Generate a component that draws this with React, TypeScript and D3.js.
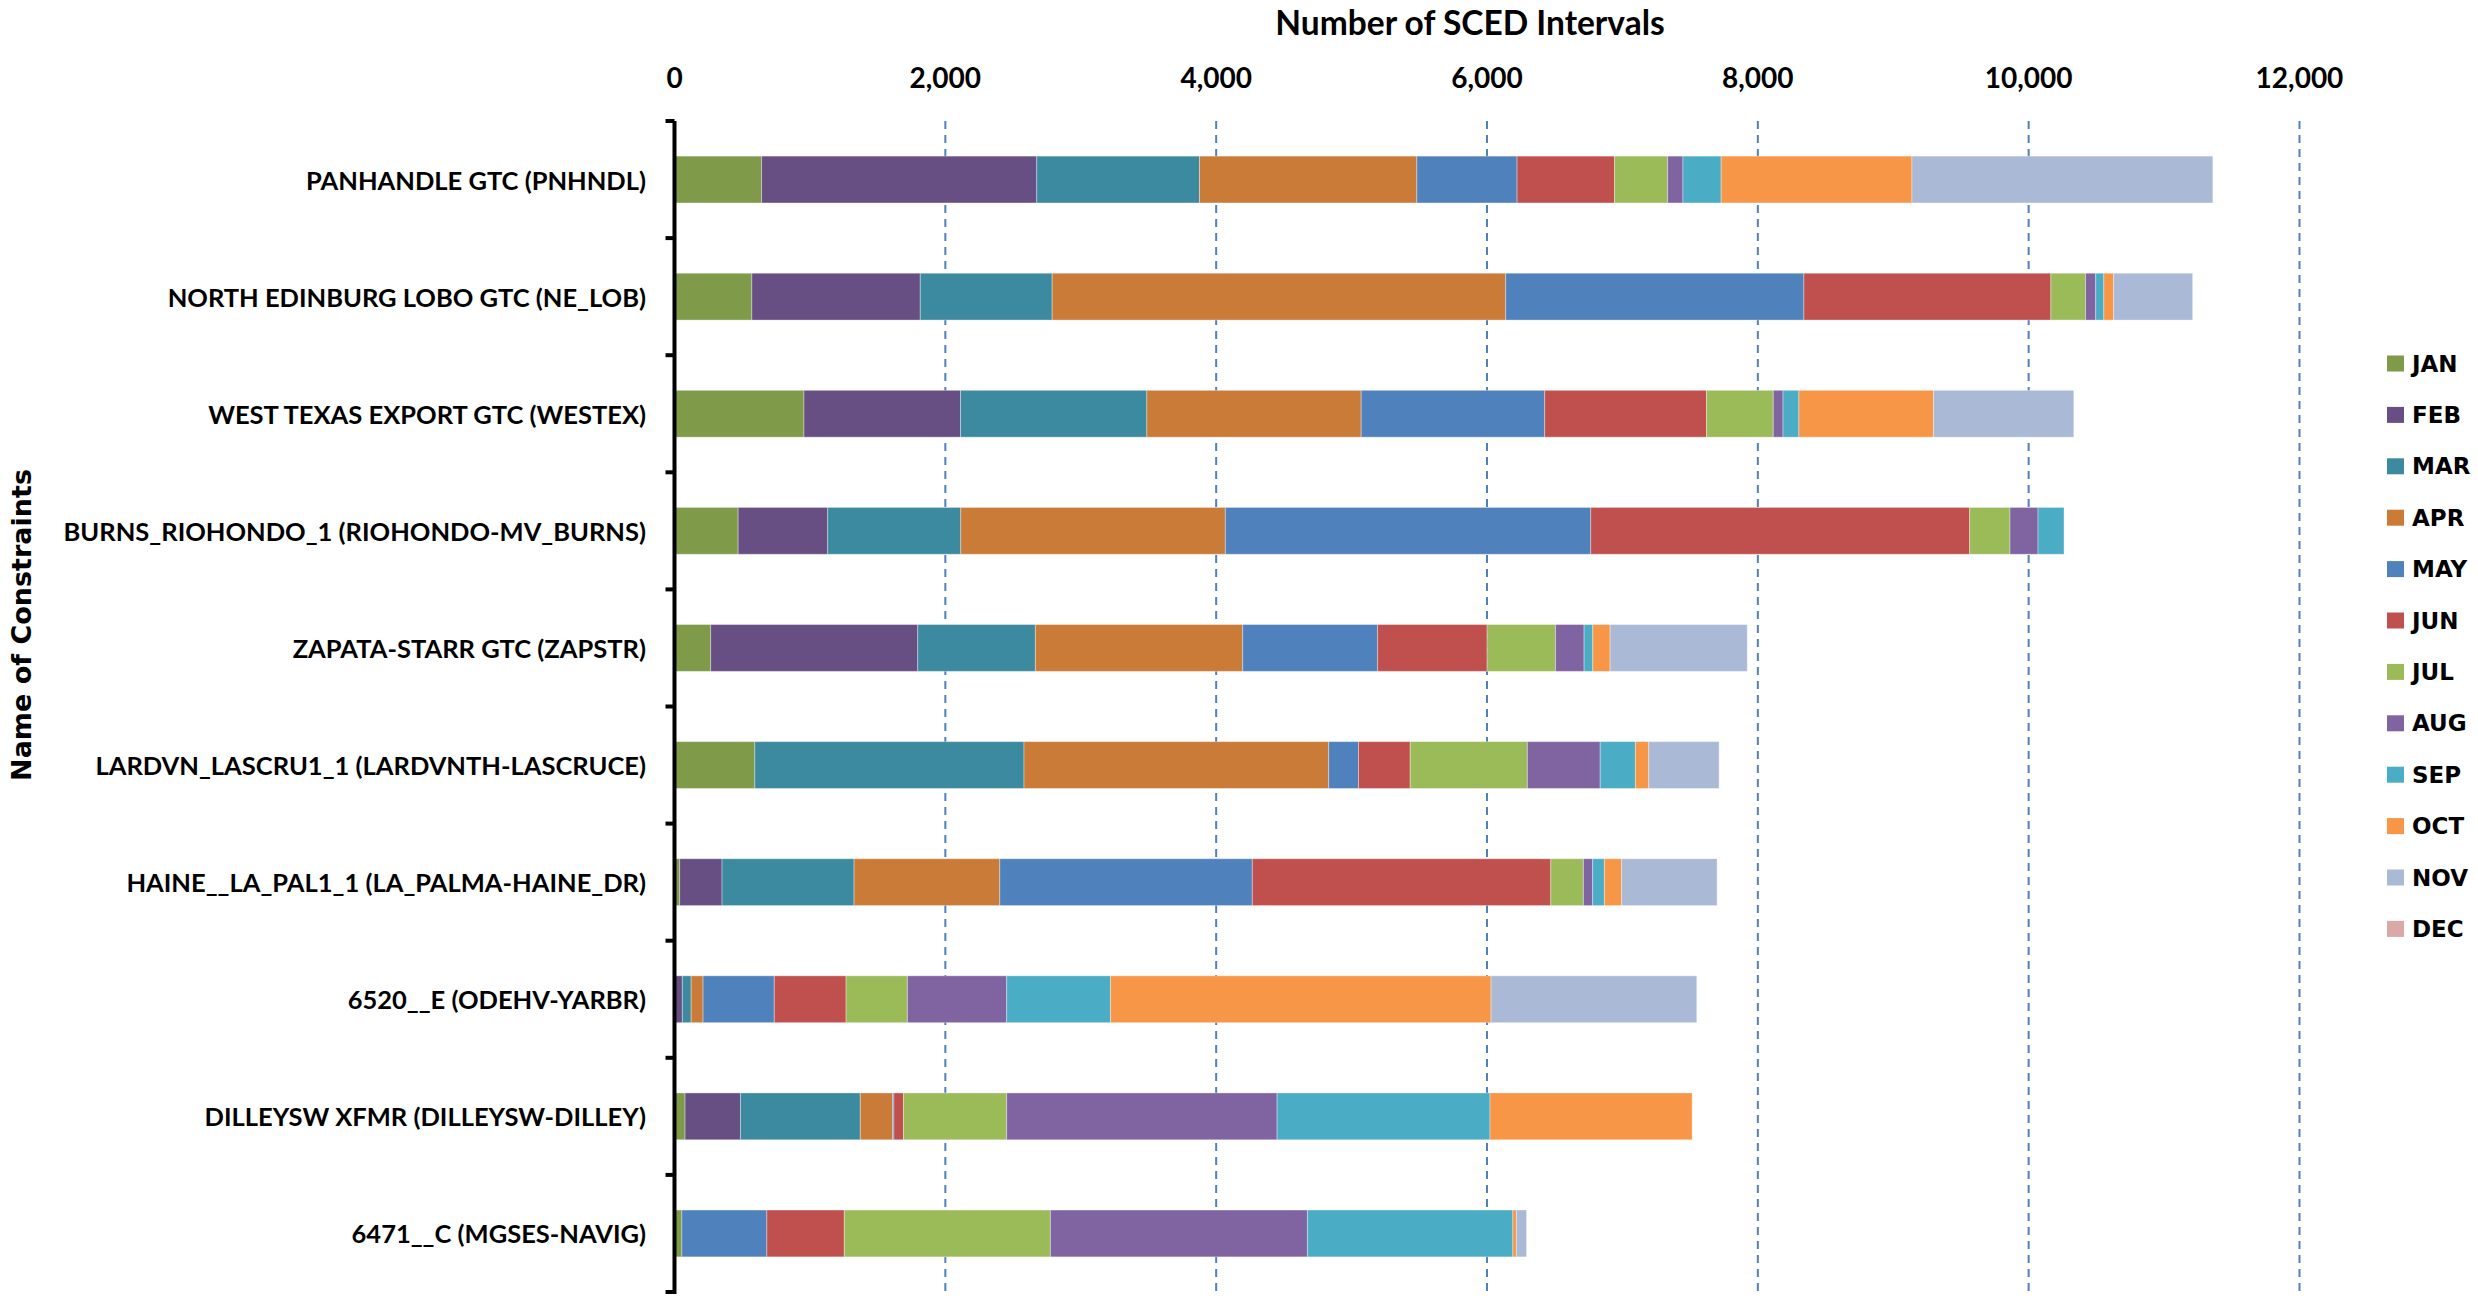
import React from "react";
import * as d3 from "d3";

const categories = [
  "PANHANDLE GTC (PNHNDL)",
  "NORTH EDINBURG LOBO GTC (NE_LOB)",
  "WEST TEXAS EXPORT GTC (WESTEX)",
  "BURNS_RIOHONDO_1 (RIOHONDO-MV_BURNS)",
  "ZAPATA-STARR GTC (ZAPSTR)",
  "LARDVN_LASCRU1_1 (LARDVNTH-LASCRUCE)",
  "HAINE__LA_PAL1_1 (LA_PALMA-HAINE_DR)",
  "6520__E (ODEHV-YARBR)",
  "DILLEYSW XFMR (DILLEYSW-DILLEY)",
  "6471__C (MGSES-NAVIG)",
];

const months = ["JAN", "FEB", "MAR", "APR", "MAY", "JUN", "JUL", "AUG", "SEP", "OCT", "NOV", "DEC"];

const jan = [643, 571, 956, 470, 267, 593, 38, 0, 78, 54];
const feb = [2032, 1244, 1156, 661, 1529, 0, 313, 58, 409, 0];
const mar = [1202, 974, 1376, 983, 869, 1988, 975, 65, 885, 0];
const apr = [1605, 3349, 1583, 1954, 1531, 2250, 1076, 88, 238, 0];
const may = [740, 2202, 1355, 2698, 996, 220, 1865, 526, 10, 628];
const jun = [720, 1824, 1195, 2798, 809, 382, 2204, 530, 71, 572];
const jul = [392, 256, 493, 298, 505, 865, 241, 453, 762, 1522];
const aug = [113, 75, 72, 207, 211, 538, 68, 733, 1997, 1898];
const sep = [282, 60, 117, 192, 64, 260, 87, 767, 1572, 1517];
const oct = [1409, 72, 994, 0, 128, 98, 127, 2810, 1493, 26];
const nov = [2222, 584, 1036, 0, 1013, 520, 705, 1519, 0, 75];
const dec = [0, 0, 0, 0, 0, 0, 0, 0, 0, 0];

const series = [jan, feb, mar, apr, may, jun, jul, aug, sep, oct, nov, dec];

const colors = [
  "#7F9A48", "#674F84", "#3C8AA0", "#CB7B38", "#4F81BD", "#C0504D",
  "#9BBB59", "#8064A2", "#4BACC6", "#F79646", "#AAB9D6", "#D9A8A7",
];

const xTicks = [0, 2000, 4000, 6000, 8000, 10000, 12000];

const W = 2478;
const H = 1300;

export default function App() {
  const x = d3.scaleLinear().domain([0, 12000]).range([674.5, 2299.5]);
  const y = d3
    .scaleBand<string>()
    .domain(categories)
    .range([121, 1292])
    .paddingInner(0.6)
    .paddingOuter(0.3);
  const step = y.step();

  const rows = categories.map((c, i) => {
    const r: any = { cat: c };
    months.forEach((m, k) => (r[m] = series[k][i]));
    return r;
  });
  const stacked = d3.stack<any>().keys(months)(rows);
  const color = d3.scaleOrdinal<string, string>().domain(months).range(colors);
  const fmt = d3.format(",");

  const top = y.range()[0];
  const bottom = y.range()[1];
  const boundaries = d3.range(categories.length + 1).map((i) => top + i * step);

  const labelFont = "Lato, 'Open Sans', sans-serif";
  const verdanaLike = "'DejaVu Sans', Verdana, sans-serif";

  return (
    <svg
      width={W}
      height={H}
      viewBox={`0 0 ${W} ${H}`}
      style={{ position: "absolute", left: 0, top: 0, background: "#fff", display: "block" }}
    >
      <rect x={0} y={0} width={W} height={H} fill="#fff" />
      {/* gridlines */}
      {xTicks.slice(1).map((t) => (
        <line
          key={"g" + t}
          x1={x(t)}
          x2={x(t)}
          y1={top}
          y2={bottom}
          stroke="#4F81BD"
          strokeWidth={2}
          strokeDasharray="8 6"
        />
      ))}
      {/* bars */}
      {stacked.map((s) => (
        <g key={s.key} fill={color(s.key)}>
          {s.map((d, i) => {
            const w = x(d[1]) - x(d[0]);
            if (w <= 0) return null;
            return (
              <rect
                key={i}
                x={x(d[0])}
                y={y(d.data.cat)}
                width={w}
                height={y.bandwidth()}
                stroke="#ffffff"
                strokeOpacity={0.35}
                strokeWidth={1}
              />
            );
          })}
        </g>
      ))}
      {/* y axis line and ticks */}
      <line x1={x(0)} x2={x(0)} y1={top} y2={bottom + 2} stroke="#000" strokeWidth={4} />
      {boundaries.map((b, i) => (
        <line key={"t" + i} x1={x(0) - 9} x2={x(0)} y1={b} y2={b} stroke="#000" strokeWidth={4} />
      ))}
      {/* category labels */}
      {categories.map((c) => (
        <text
          key={c}
          x={646}
          y={(y(c) as number) + y.bandwidth() / 2}
          textAnchor="end"
          dominantBaseline="central"
          fontFamily={labelFont}
          fontWeight="bold"
          fontSize={25.5}
          fill="#000"
        >
          {c}
        </text>
      ))}
      {/* x tick labels */}
      {xTicks.map((t) => (
        <text
          key={"xl" + t}
          x={x(t)}
          y={88}
          textAnchor="middle"
          fontFamily={labelFont}
          fontWeight="bold"
          fontSize={28}
          fill="#000"
        >
          {fmt(t)}
        </text>
      ))}
      {/* title */}
      <text
        x={1470}
        y={35}
        textAnchor="middle"
        fontFamily={labelFont}
        fontWeight="bold"
        fontSize={33.5}
        fill="#000"
      >
        Number of SCED Intervals
      </text>
      {/* y axis title */}
      <text
        transform={`translate(31, 625) rotate(-90)`}
        textAnchor="middle"
        fontFamily={verdanaLike}
        fontWeight="bold"
        fontSize={27}
        fill="#000"
      >
        Name of Constraints
      </text>
      {/* legend */}
      {months.map((m, i) => {
        const cy = 363.5 + i * 51.4;
        return (
          <g key={"lg" + m}>
            <rect x={2387} y={cy - 8} width={17} height={16} fill={color(m)} />
            <text
              x={2412}
              y={cy}
              dominantBaseline="central"
              fontFamily={verdanaLike}
              fontWeight="bold"
              fontSize={23}
              fill="#000"
            >
              {m}
            </text>
          </g>
        );
      })}
    </svg>
  );
}
